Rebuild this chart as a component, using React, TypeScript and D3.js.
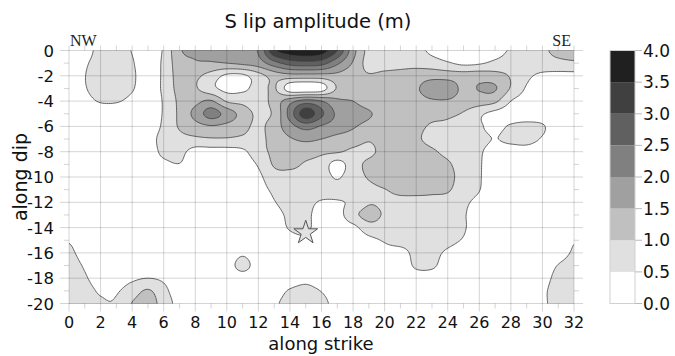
import React, { useMemo } from "react";
import * as d3 from "d3";

// Along-strike and along-dip tick values
const strikeTicks = d3.range(0, 33, 2);
const dipTicks = d3.range(0, -21, -2);
const strikeMinor = d3.range(0, 33, 1);
const dipMinor = d3.range(0, -21, -1);

// Slip contour levels (m) and their fills
const slipLevels = [0, 0.5, 1, 1.5, 2, 2.5, 3, 3.5, 4];
const levelColors = ["#ffffff", "#e0e0e0", "#c0c0c0", "#a0a0a0", "#808080", "#606060", "#404040", "#202020"];

// Hypocentre (along strike, along dip)
const hypocenter = [15, -14.4];

// Slip (m) on the fault grid: one row per unit of dip (0 .. -20), 33 nodes along strike (0 .. 32)
const slipRows = [
  [0.15,0.2,0.75,0.75,0.48,0.25,0.56,1.44,1.56,1.65,1.75,1.85,2.05,3.4,3.8,3.9,3.75,3.0,1.7,0.85,0.75,0.7,0.62,0.42,0.3,0.25,0.3,0.35,0.55,0.7,0.9,1.15,1.3],
  [0.1,0.4,0.8,0.85,0.55,0.2,0.6,1.3,1.45,1.45,1.5,1.6,1.75,2.3,2.7,2.8,2.7,2.1,1.45,0.8,0.75,0.8,0.8,0.7,0.55,0.4,0.45,0.6,0.7,0.75,0.8,0.85,0.9],
  [0.1,0.48,0.85,0.85,0.6,0.2,0.6,1.2,1.1,0.8,0.4,0.4,0.8,1.2,1.3,1.3,1.3,1.35,1.2,1.05,1.15,1.2,1.3,1.35,1.3,1.25,1.3,1.2,0.95,0.6,0.4,0.35,0.35],
  [0.1,0.45,0.8,0.8,0.55,0.2,0.6,1.15,1.05,0.65,0.35,0.4,0.7,1.05,0.2,0.1,0.25,1.05,1.2,1.25,1.25,1.3,1.45,1.7,1.75,1.4,1.52,1.54,0.95,0.45,0.3,0.25,0.25],
  [0.1,0.3,0.55,0.55,0.35,0.15,0.55,1.1,1.35,1.55,0.95,0.85,0.75,1.2,1.8,2.2,2.0,1.6,1.5,1.3,1.25,1.3,1.35,1.45,1.45,1.3,1.25,1.1,0.5,0.3,0.2,0.2,0.2],
  [0.1,0.1,0.15,0.15,0.1,0.15,0.55,1.1,1.65,2.2,1.8,1.3,0.9,1.1,2.2,3.3,2.6,1.9,1.7,1.55,1.3,1.25,1.2,1.15,1.1,0.95,0.6,0.35,0.25,0.2,0.2,0.15,0.15],
  [0.1,0.1,0.1,0.1,0.1,0.15,0.6,1.05,1.3,1.45,1.35,1.15,0.9,1.25,1.8,2.2,1.95,1.75,1.55,1.35,1.2,1.15,1.1,0.95,0.9,0.75,0.55,0.4,0.55,0.65,0.55,0.2,0.15],
  [0.1,0.1,0.1,0.1,0.1,0.25,0.7,0.85,0.9,0.95,0.95,0.9,0.85,1.2,1.45,1.6,1.5,1.35,1.25,1.05,1.2,1.15,1.05,0.9,0.8,0.7,0.6,0.49,0.6,0.65,0.45,0.15,0.1],
  [0.1,0.1,0.1,0.1,0.1,0.15,0.65,0.65,0.3,0.3,0.3,0.4,0.8,1.1,1.2,1.2,1.1,1.05,0.9,0.9,1.15,1.2,1.15,1.05,0.9,0.75,0.55,0.35,0.3,0.3,0.2,0.1,0.1],
  [0.1,0.1,0.1,0.1,0.1,0.1,0.35,0.48,0.15,0.1,0.1,0.25,0.55,1.05,1.1,0.95,0.8,0.3,0.8,1.1,1.25,1.3,1.25,1.15,1.05,0.8,0.55,0.2,0.15,0.1,0.1,0.1,0.1],
  [0.1,0.1,0.1,0.1,0.1,0.1,0.1,0.1,0.1,0.1,0.1,0.3,0.4,0.8,0.85,0.85,0.75,0.45,0.8,1.05,1.35,1.4,1.35,1.25,1.1,0.85,0.55,0.15,0.1,0.1,0.1,0.1,0.1],
  [0.1,0.1,0.1,0.1,0.1,0.1,0.1,0.1,0.1,0.1,0.1,0.15,0.3,0.6,0.75,0.8,0.75,0.7,0.75,0.85,0.98,1.15,1.15,1.1,1.05,0.75,0.52,0.1,0.1,0.1,0.1,0.1,0.1],
  [0.1,0.1,0.1,0.1,0.1,0.1,0.1,0.1,0.1,0.1,0.1,0.1,0.15,0.47,0.7,0.65,0.45,0.45,0.6,0.95,0.9,0.85,0.85,0.85,0.8,0.6,0.35,0.1,0.1,0.1,0.1,0.1,0.1],
  [0.1,0.1,0.1,0.1,0.1,0.1,0.1,0.1,0.1,0.1,0.1,0.1,0.1,0.3,0.6,0.6,0.3,0.3,0.85,1.15,0.95,0.85,0.8,0.75,0.7,0.55,0.2,0.1,0.1,0.1,0.1,0.1,0.1],
  [0.1,0.1,0.1,0.1,0.1,0.1,0.1,0.1,0.1,0.1,0.1,0.1,0.1,0.2,0.55,0.6,0.25,0.2,0.35,0.8,0.8,0.75,0.75,0.7,0.65,0.55,0.2,0.1,0.1,0.1,0.1,0.1,0.1],
  [0.45,0.2,0.1,0.1,0.1,0.1,0.1,0.1,0.1,0.1,0.1,0.1,0.1,0.1,0.3,0.4,0.2,0.1,0.1,0.35,0.55,0.7,0.7,0.7,0.65,0.45,0.15,0.1,0.1,0.1,0.1,0.2,0.45],
  [0.6,0.3,0.1,0.1,0.1,0.1,0.1,0.1,0.1,0.1,0.1,0.4,0.1,0.1,0.1,0.1,0.1,0.1,0.1,0.1,0.3,0.3,0.65,0.65,0.4,0.15,0.1,0.1,0.1,0.1,0.1,0.3,0.55],
  [0.7,0.45,0.2,0.1,0.1,0.1,0.1,0.1,0.1,0.1,0.2,0.7,0.2,0.1,0.1,0.1,0.1,0.1,0.1,0.1,0.1,0.1,0.6,0.6,0.2,0.1,0.1,0.1,0.1,0.1,0.2,0.52,0.65],
  [0.75,0.55,0.3,0.25,0.4,0.5,0.4,0.15,0.1,0.1,0.1,0.2,0.1,0.1,0.2,0.35,0.2,0.1,0.1,0.1,0.1,0.1,0.2,0.2,0.1,0.1,0.1,0.1,0.1,0.1,0.3,0.65,0.75],
  [0.8,0.65,0.45,0.45,0.75,1.05,0.65,0.2,0.1,0.1,0.1,0.1,0.1,0.25,0.55,0.65,0.48,0.2,0.1,0.1,0.1,0.1,0.1,0.1,0.1,0.1,0.1,0.1,0.1,0.1,0.4,0.7,0.85],
  [0.85,0.7,0.55,0.55,1.02,1.2,0.8,0.3,0.1,0.1,0.1,0.1,0.1,0.4,0.7,0.8,0.65,0.3,0.1,0.1,0.1,0.1,0.1,0.1,0.1,0.1,0.1,0.1,0.1,0.1,0.4,0.7,0.9],
];

const W = 675;
const H = 356;
const plot = { left: 69, right: 574, top: 50.5, bottom: 303.5 };
const bar = { left: 610, right: 635 };
const SANS = "'DejaVu Sans', sans-serif";

// Catmull-Rom weight for smooth resampling of the grid before contouring
function catmull(p0: number, p1: number, p2: number, p3: number, t: number) {
  const t2 = t * t;
  const t3 = t2 * t;
  return 0.5 * (2 * p1 + (-p0 + p2) * t + (2 * p0 - 5 * p1 + 4 * p2 - p3) * t2 + (-p0 + 3 * p1 - 3 * p2 + p3) * t3);
}

export default function App() {
  const x = d3.scaleLinear().domain([0, 32]).range([plot.left, plot.right]);
  const y = d3.scaleLinear().domain([0, -20]).range([plot.top, plot.bottom]);
  const cb = d3.scaleLinear().domain([0, 4]).range([plot.bottom, plot.top]);

  const bands = useMemo(() => {
    const nRows = slipRows.length;
    const nCols = slipRows[0].length;
    const F = 8;
    const nx = (nCols - 1) * F + 1;
    const ny = (nRows - 1) * F + 1;
    const at = (r: number, c: number) =>
      slipRows[Math.max(0, Math.min(nRows - 1, r))][Math.max(0, Math.min(nCols - 1, c))];
    const values = new Float64Array(nx * ny);
    for (let j = 0; j < ny; j++) {
      let r = Math.floor(j / F);
      let ty = (j % F) / F;
      if (r >= nRows - 1) { r = nRows - 2; ty = 1; }
      for (let i = 0; i < nx; i++) {
        let c = Math.floor(i / F);
        let tx = (i % F) / F;
        if (c >= nCols - 1) { c = nCols - 2; tx = 1; }
        const col = [-1, 0, 1, 2].map((k) =>
          catmull(at(r + k, c - 1), at(r + k, c), at(r + k, c + 1), at(r + k, c + 2), tx)
        );
        values[j * nx + i] = catmull(col[0], col[1], col[2], col[3], ty);
      }
    }
    const gen = d3.contours().size([nx, ny]).thresholds(slipLevels.slice(1, -1));
    const toPx = (p: number[]) => [
      x((32 * (p[0] - 0.5)) / (nx - 1)),
      y((-20 * (p[1] - 0.5)) / (ny - 1)),
    ];
    const path = d3.geoPath();
    return gen(Array.from(values)).map((g: any, k: number) => {
      const geom = {
        type: "MultiPolygon",
        coordinates: g.coordinates.map((poly: any) => poly.map((ring: any) => ring.map(toPx))),
      };
      return { value: g.value, color: levelColors[k + 1], d: path(geom as any) || "" };
    });
  }, []);

  const star = d3.symbol().type(d3.symbolStar).size(175)() || "";

  return (
    <svg
      width={W}
      height={H}
      style={{ position: "absolute", left: 0, top: 0, background: "#fff" }}
      fontFamily={SANS}
    >
      <defs>
        <clipPath id="plot-clip">
          <rect x={plot.left} y={plot.top} width={plot.right - plot.left} height={plot.bottom - plot.top} />
        </clipPath>
      </defs>

      <text x={318} y={28} textAnchor="middle" fontSize={19.5} fill="#111">S lip amplitude (m)</text>

      {/* filled slip bands and contour lines */}
      <g clipPath="url(#plot-clip)">
        <rect x={plot.left} y={plot.top} width={plot.right - plot.left} height={plot.bottom - plot.top} fill={levelColors[0]} />
        {bands.map((b) => (
          <path key={"f" + b.value} d={b.d} fill={b.color} stroke="none" />
        ))}
        {bands.map((b) => (
          <path key={"l" + b.value} d={b.d} fill="none" stroke="#444" strokeWidth={0.8} />
        ))}
      </g>

      {/* grid and tick marks */}
      <g stroke="#000" strokeOpacity={0.17} strokeWidth={1}>
        {strikeTicks.map((v) => (
          <line key={"gx" + v} x1={x(v)} x2={x(v)} y1={plot.top} y2={plot.bottom + 8} />
        ))}
        {dipTicks.map((v) => (
          <line key={"gy" + v} x1={plot.left - 9} x2={plot.right + 9} y1={y(v)} y2={y(v)} />
        ))}
        {strikeMinor.map((v) => (
          <line key={"tx" + v} x1={x(v)} x2={x(v)} y1={plot.top - 5} y2={plot.top} />
        ))}
        {strikeMinor.filter((v) => v % 2 !== 0).map((v) => (
          <line key={"bx" + v} x1={x(v)} x2={x(v)} y1={plot.bottom} y2={plot.bottom + 5} />
        ))}
        {dipMinor.filter((v) => v % 2 !== 0).map((v) => (
          <g key={"my" + v}>
            <line x1={plot.left - 5} x2={plot.left} y1={y(v)} y2={y(v)} />
            <line x1={plot.right} x2={plot.right + 5} y1={y(v)} y2={y(v)} />
          </g>
        ))}
      </g>

      {/* hypocentre */}
      <path
        d={star}
        transform={`translate(${x(hypocenter[0])},${y(hypocenter[1])})`}
        fill="#e2e2e2"
        stroke="#555"
        strokeWidth={1}
      />

      <text x={plot.left + 1} y={46} fontFamily="'Liberation Serif', serif" fontSize={16} fill="#222">NW</text>
      <text x={plot.right - 3} y={46} textAnchor="end" fontFamily="'Liberation Serif', serif" fontSize={16} fill="#222">SE</text>

      {/* axis labels */}
      {strikeTicks.map((v) => (
        <text key={"lx" + v} x={x(v)} y={328} textAnchor="middle" fontSize={16} fill="#111">{v}</text>
      ))}
      {dipTicks.map((v) => (
        <text key={"ly" + v} x={54} y={y(v) + 6} textAnchor="end" fontSize={16.5} fill="#111">{v}</text>
      ))}
      <text x={321} y={350} textAnchor="middle" fontSize={18} fill="#111">along strike</text>
      <text transform={`translate(27,${(plot.top + plot.bottom) / 2}) rotate(-90)`} textAnchor="middle" fontSize={19} fill="#111">along dip</text>

      {/* colour bar */}
      <g>
        {levelColors.map((c, i) => (
          <rect
            key={"cb" + i}
            x={bar.left}
            width={bar.right - bar.left}
            y={cb(slipLevels[i + 1])}
            height={cb(slipLevels[i]) - cb(slipLevels[i + 1])}
            fill={c}
          />
        ))}
        <rect x={bar.left} y={plot.top} width={bar.right - bar.left} height={plot.bottom - plot.top} fill="none" stroke="#d0d0d0" strokeWidth={1} />
        {slipLevels.map((v) => (
          <g key={"ct" + v}>
            <line x1={bar.right} x2={bar.right + 7} y1={cb(v)} y2={cb(v)} stroke="#bbb" />
            <text x={bar.right + 8} y={cb(v) + 6} fontSize={17} fill="#111">{d3.format(".1f")(v)}</text>
          </g>
        ))}
      </g>
    </svg>
  );
}
